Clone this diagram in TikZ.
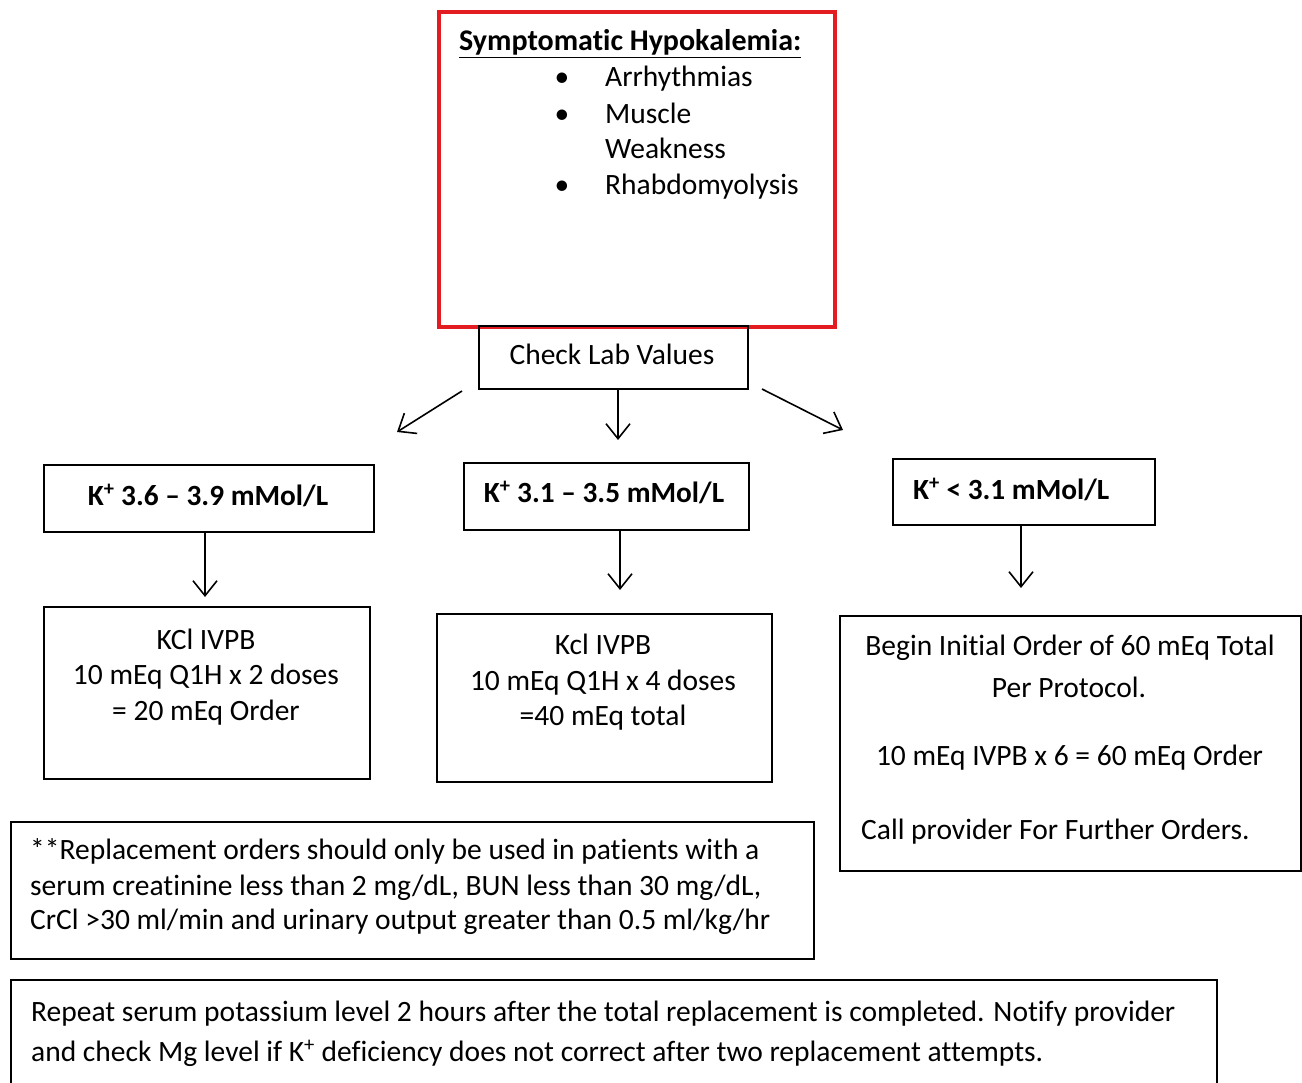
\documentclass[tikz,border=0pt]{standalone}
\usepackage{fontspec}
\setmainfont{Carlito}[Ligatures=NoCommon]
\usetikzlibrary{arrows.meta}
\definecolor{hypred}{RGB}{226,28,32}
\begin{document}
\begin{tikzpicture}[x=1pt,y=-1pt,
  box/.style={draw, line width=1.6pt, inner sep=0pt, anchor=north west},
  redbox/.style={draw=hypred, line width=4pt, inner sep=0pt, anchor=north west},
  txt/.style={inner sep=0pt, font=\fontsize{29.5}{34}\selectfont},
  btxt/.style={inner sep=0pt, font=\fontsize{29.3}{34}\selectfont\bfseries},
  arr/.style={line width=1.6pt, -{Straight Barb[length=15pt,width=24pt]}}]
\useasboundingbox (0,0) rectangle (1302,1083);
% boxes
\node[redbox, minimum width=396pt, minimum height=315pt] (sym) at (437,10) {};
\node[box, minimum width=269pt, minimum height=63pt] (check) at (478,325) {};
\node[box, minimum width=330pt, minimum height=67pt] (k1) at (43,464) {};
\node[box, minimum width=285pt, minimum height=67pt] (k2) at (463,462) {};
\node[box, minimum width=262pt, minimum height=66pt] (k3) at (892,458) {};
\node[box, minimum width=326pt, minimum height=172pt] (o1) at (43,606) {};
\node[box, minimum width=335pt, minimum height=168pt] (o2) at (436,613) {};
\node[box, minimum width=461pt, minimum height=255pt] (o3) at (839,615) {};
\node[box, minimum width=803pt, minimum height=137pt] (note) at (10,821) {};
\node[box, minimum width=1206pt, minimum height=120pt] (rep) at (10,979) {};
% symptom text
\node[inner sep=0pt, font=\fontsize{30}{34}\selectfont\bfseries, anchor=base west] (title) at (459,51) {\underline{Symptomatic Hypokalemia:}};
\node[txt, anchor=base] (b1) at (562,87) {•};
\node[txt, anchor=base] (b2) at (562,123.5) {•};
\node[txt, anchor=base] (b3) at (562,195) {•};
\node[txt, anchor=base west] (i1) at (605,87) {Arrhythmias};
\node[txt, anchor=base west] (i2) at (605,123.5) {Muscle};
\node[txt, anchor=base west] (i2b) at (605,159) {Weakness};
\node[txt, anchor=base west] (i3) at (605,195) {Rhabdomyolysis};
\node[txt, anchor=base] (checkt) at (612,365) {Check Lab Values};
% level texts
\node[btxt, anchor=base] (k1t) at (208,505) {K\textsuperscript{+} 3.6 – 3.9 mMol/L};
\node[btxt, anchor=base] (k2t) at (604,502) {K\textsuperscript{+} 3.1 – 3.5 mMol/L};
\node[btxt, anchor=base west] (k3t) at (913,499) {K\textsuperscript{+} < 3.1 mMol/L};
% order texts
\node[txt, anchor=base] (o1a) at (206,649) {KCl IVPB};
\node[txt, anchor=base] (o1b) at (206,684) {10 mEq Q1H x 2 doses};
\node[txt, anchor=base] (o1c) at (206,720) {= 20 mEq Order};
\node[txt, anchor=base] (o2a) at (603,654) {Kcl IVPB};
\node[txt, anchor=base] (o2b) at (603,690) {10 mEq Q1H x 4 doses};
\node[txt, anchor=base] (o2c) at (603,725) {=40 mEq total};
\node[txt, anchor=base] (o3a) at (1070,655) {Begin Initial Order of 60 mEq Total};
\node[txt, anchor=base] (o3b) at (1069,697) {Per Protocol.};
\node[txt, anchor=base] (o3c) at (1069.5,765) {10 mEq IVPB x 6 = 60 mEq Order};
\node[txt, anchor=base west] (o3d) at (861,839) {Call provider For Further Orders.};
% note texts
\node[txt, anchor=base west] (n1) at (30,859) {**Replacement orders should only be used in patients with a};
\node[txt, anchor=base west] (n2) at (30,895.5) {serum creatinine less than 2 mg/dL, BUN less than 30 mg/dL,};
\node[txt, anchor=base west] (n3) at (30,929.5) {CrCl >30 ml/min and urinary output greater than 0.5 ml/kg/hr};
\node[txt, anchor=base west] (r1) at (31,1021) {Repeat serum potassium level 2 hours after the total replacement is completed. Notify provider};
\node[txt, anchor=base west] (r2) at (31,1061) {and check Mg level if K\textsuperscript{+} deficiency does not correct after two replacement attempts.};
% arrows
\coordinate (s1) at (462,391);
\coordinate (t1) at (397,432);
\coordinate (t2) at (618,440);
\coordinate (s3) at (762,389);
\coordinate (t3) at (843,430);
\coordinate (t4) at (205,597);
\coordinate (t5) at (620,590);
\coordinate (t6) at (1021,588);
\draw[arr] (s1) -- (t1);
\draw[arr] (check.south -| t2) -- (t2);
\draw[arr] (s3) -- (t3);
\draw[arr] (k1.south -| t4) -- (t4);
\draw[arr] (k2.south -| t5) -- (t5);
\draw[arr] (k3.south -| t6) -- (t6);
\end{tikzpicture}
\end{document}
